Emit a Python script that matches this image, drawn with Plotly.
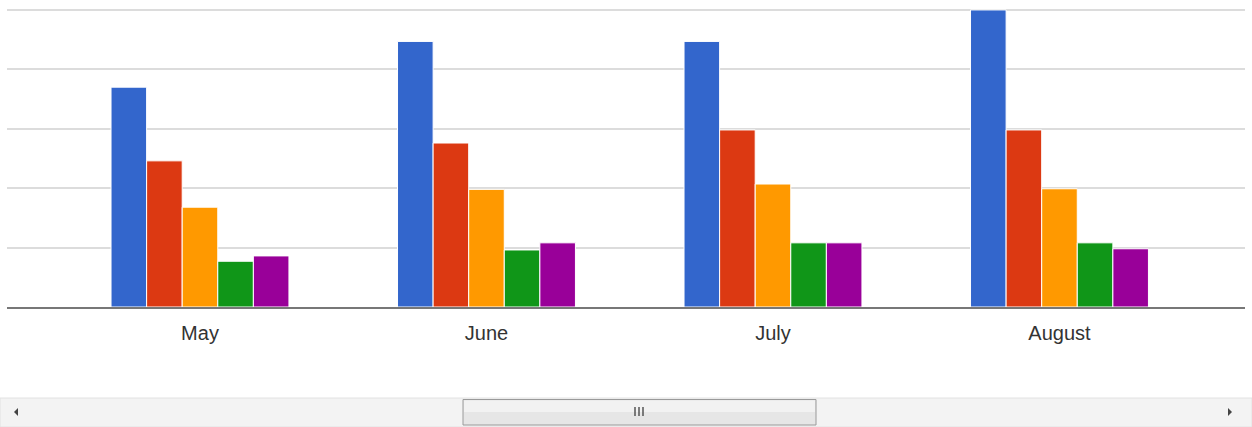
import plotly.graph_objects as go

months = ["May", "June", "July", "August"]
series_names = ["Series 1", "Series 2", "Series 3", "Series 4", "Series 5"]
s1 = [37, 44.7, 44.7, 50]
s2 = [24.6, 27.6, 29.8, 29.8]
s3 = [16.8, 19.8, 20.7, 19.9]
s4 = [7.7, 9.6, 10.8, 10.8]
s5 = [8.6, 10.8, 10.8, 9.8]
series_values = [s1, s2, s3, s4, s5]
colors = ["#3366cc", "#dc3912", "#ff9900", "#109618", "#990099"]

W, H = 1252, 427
ML, MR, MT, MB = 7, 7, 4, 120
PW, PH = W - ML - MR, H - MT - MB


def px(x):
    return (x - ML) / PW


def py(y):
    return (H - MB - y) / PH


fig = go.Figure()
for name, vals, c in zip(series_names, series_values, colors):
    fig.add_trace(go.Bar(x=months, y=vals, name=name, marker_color=c,
                         marker_line_color="white", marker_line_width=1))

shapes = []
# scrollbar track
shapes.append(dict(type="rect", xref="paper", yref="paper", x0=px(0), x1=px(W),
                   y0=py(427), y1=py(398), fillcolor="#f3f3f3",
                   line=dict(color="#e2e2e2", width=1), layer="above"))
# thumb
shapes.append(dict(type="rect", xref="paper", yref="paper", x0=px(463), x1=px(816),
                   y0=py(425), y1=py(399.5), fillcolor="#e6e6e6",
                   line=dict(color="#9a9a9a", width=1), layer="above"))
shapes.append(dict(type="rect", xref="paper", yref="paper", x0=px(464), x1=px(815),
                   y0=py(412), y1=py(400.5), fillcolor="#f2f2f2",
                   line=dict(width=0), layer="above"))
# grip lines
for gx in [635, 639, 643]:
    shapes.append(dict(type="line", xref="paper", yref="paper", x0=px(gx), x1=px(gx),
                       y0=py(416), y1=py(407), line=dict(color="#555", width=1.5), layer="above"))
# arrows
shapes.append(dict(type="path", xref="paper", yref="paper", layer="above",
                   path=f"M {px(14)} {py(412)} L {px(18)} {py(408)} L {px(18)} {py(416)} Z",
                   fillcolor="#444", line=dict(width=0)))
shapes.append(dict(type="path", xref="paper", yref="paper", layer="above",
                   path=f"M {px(1232)} {py(412)} L {px(1228)} {py(408)} L {px(1228)} {py(416)} Z",
                   fillcolor="#444", line=dict(width=0)))

fig.update_layout(
    width=W, height=H,
    margin=dict(l=ML, r=MR, t=MT, b=MB),
    paper_bgcolor="white", plot_bgcolor="white",
    barmode="group", bargap=0.379, bargroupgap=0,
    showlegend=False,
    font=dict(family="Liberation Sans, Arial, sans-serif", size=20, color="#333"),
    shapes=shapes,
)
fig.update_xaxes(type="category", range=[-0.6736, 3.6475], showline=True,
                 linecolor="#777", linewidth=1.5, showgrid=False,
                 ticks="outside", ticklen=7, tickcolor="rgba(0,0,0,0)",
                 tickfont=dict(size=20, color="#333"))
fig.update_yaxes(range=[0, 51], tick0=0, dtick=10, showticklabels=False,
                 showgrid=True, gridcolor="#dcdcdc", gridwidth=1.5,
                 zeroline=False, showline=False, fixedrange=True)

fig.write_html("out.html", config={"displayModeBar": False},
               post_script="document.body.style.margin='0';")
